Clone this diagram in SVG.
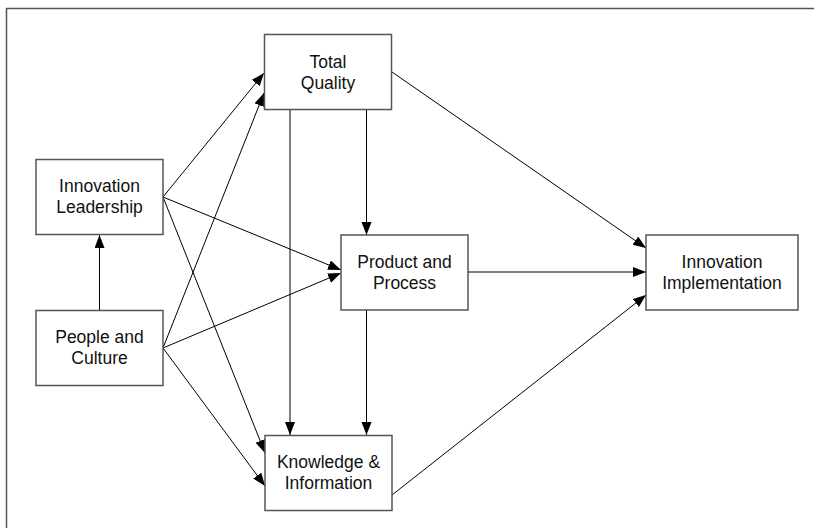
<svg xmlns="http://www.w3.org/2000/svg" width="814" height="528" viewBox="0 0 814 528">
<style>
.box{fill:#fff;stroke:#555;stroke-width:1.5}
.lbl{font-family:"Liberation Sans",Arial,sans-serif;font-size:17.5px;fill:#111;text-anchor:middle}
.con{stroke:#000;stroke-width:1;fill:none;marker-end:url(#ah)}
</style>
<defs>
<marker id="ah" markerUnits="userSpaceOnUse" markerWidth="14" markerHeight="11" refX="13" refY="5" orient="auto">
<path d="M0,0 L13,5 L0,10 z" fill="#000"/>
</marker>
</defs>
<rect width="814" height="528" fill="#fff"/>
<g id="frame" stroke="#555" stroke-width="1.5" fill="none">
<line x1="6" y1="8.5" x2="814" y2="8.5"/>
<line x1="6.5" y1="8" x2="6.5" y2="528"/>
</g>
<g id="connectors">
<line class="con" x1="99.5" y1="310" x2="99.5" y2="235"/>
<line class="con" x1="163" y1="197" x2="264" y2="73"/>
<line class="con" x1="163" y1="348" x2="264" y2="93"/>
<line class="con" x1="163" y1="197" x2="341" y2="270"/>
<line class="con" x1="163" y1="348" x2="341" y2="273"/>
<line class="con" x1="163" y1="197" x2="265" y2="453"/>
<line class="con" x1="163" y1="348" x2="265" y2="486"/>
<line class="con" x1="290" y1="109" x2="290" y2="435"/>
<line class="con" x1="366.5" y1="109" x2="366.5" y2="235"/>
<line class="con" x1="366.5" y1="310" x2="366.5" y2="435"/>
<line class="con" x1="392" y1="72" x2="646" y2="248"/>
<line class="con" x1="468" y1="272" x2="646" y2="272"/>
<line class="con" x1="392" y1="495" x2="646" y2="295"/>
</g>
<g id="total-quality">
<rect class="box" x="264.5" y="34.5" width="127" height="75"/>
<text class="lbl" x="328" y="67.5">Total</text>
<text class="lbl" x="328" y="88.5">Quality</text>
</g>
<g id="innovation-leadership">
<rect class="box" x="36" y="159.5" width="127" height="75"/>
<text class="lbl" x="99.5" y="192">Innovation</text>
<text class="lbl" x="99.5" y="213">Leadership</text>
</g>
<g id="people-culture">
<rect class="box" x="36" y="310.5" width="127" height="75"/>
<text class="lbl" x="99.5" y="343">People and</text>
<text class="lbl" x="99.5" y="364">Culture</text>
</g>
<g id="product-process">
<rect class="box" x="341" y="235" width="127" height="75"/>
<text class="lbl" x="404.5" y="268">Product and</text>
<text class="lbl" x="404.5" y="289">Process</text>
</g>
<g id="innovation-implementation">
<rect class="box" x="646" y="235" width="152" height="75"/>
<text class="lbl" x="722" y="268">Innovation</text>
<text class="lbl" x="722" y="289">Implementation</text>
</g>
<g id="knowledge-information">
<rect class="box" x="265" y="435.5" width="127" height="75"/>
<text class="lbl" x="328.5" y="468">Knowledge &amp;</text>
<text class="lbl" x="328.5" y="489">Information</text>
</g>
</svg>
